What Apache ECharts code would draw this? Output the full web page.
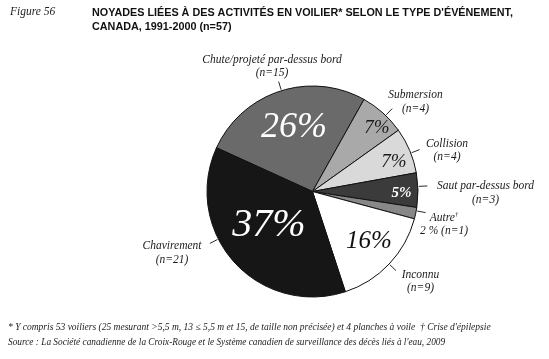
<!DOCTYPE html>
<html><head><meta charset="utf-8">
<script src="https://cdn.jsdelivr.net/npm/echarts@6/dist/echarts.min.js"></script>
<style>html,body{margin:0;padding:0;background:#fff}#c{width:549px;height:359px}</style>
</head><body><div id="c"></div>
<script>
// ---- data ----
const categories = ['Chute/projeté par-dessus bord', 'Submersion', 'Collision', 'Saut par-dessus bord', 'Autre', 'Inconnu', 'Chavirement'];
const counts = [15, 4, 4, 3, 1, 9, 21];
const noteMarks = ['', '', '', '', '†', '', ''];
const figureLabel = 'Figure 56';
const titleLines = ["NOYADES LIÉES À DES ACTIVITÉS EN VOILIER* SELON LE TYPE D'ÉVÉNEMENT,", 'CANADA, 1991-2000 (n=57)'];
const footnote1 = '* Y compris 53 voiliers (25 mesurant >5,5 m, 13 ≤ 5,5 m et 15, de taille non précisée) et 4 planches à voile';
const footnote1b = "† Crise d'épilepsie";
const footnote2 = "Source : La Société canadienne de la Croix-Rouge et le Système canadien de surveillance des décès liés à l'eau, 2009";

// ---- layout / style ----
const CX = 312.5, CY = 191.5, R = 105.5, START = 155.5;
const colors = ['#6a6a6a', '#a9a9a9', '#d9d9d9', '#3b3b3b', '#888888', '#ffffff', '#161616'];
const innerStyle = [
  {color: '#fff', size: 36, weight: 'normal', pos: [294, 128]},
  {color: '#1a1a1a', size: 19, weight: 'normal', pos: [377, 127.5]},
  {color: '#1a1a1a', size: 19, weight: 'normal', pos: [394, 161.5]},
  {color: '#fff', size: 15, weight: 'bold', pos: [401.5, 193]},
  null,
  {color: '#111', size: 25, weight: 'normal', pos: [369, 241.5]},
  {color: '#fff', size: 40, weight: 'normal', pos: [269, 225]}
];
const outerPos = [[272, 66.5], [415.5, 102], [447, 150.3], [485.5, 193], [444, 224.5], [420.5, 281.7], [172, 253]];
const anchorShift = [-1, -2, -1.5, 2, 1.3, 0, -15];

const total = counts.reduce((a, b) => a + b, 0);
const mids = [];
{ let a = START; counts.forEach(v => { const s = v / total * 360; mids.push(a - s / 2); a -= s; }); }
function pt(angDeg, r) { const t = angDeg * Math.PI / 180; return [CX + r * Math.cos(t), CY - r * Math.sin(t)]; }

const serif = 'Liberation Serif';
const chart = echarts.init(document.getElementById('c'), null, {renderer: 'canvas'});

const innerData = categories.map((n, i) => {
  const st = innerStyle[i];
  return {
    name: n, value: counts[i],
    itemStyle: {color: colors[i]},
    label: st ? {show: true, color: st.color, fontSize: st.size, fontWeight: st.weight} : {show: false}
  };
});
const outerData = categories.map((n, i) => ({name: n, value: counts[i]}));
const footStyle = sz => ({fontFamily: serif, fontStyle: 'italic', fontWeight: 'normal', fontSize: sz, color: '#222'});

chart.setOption({
  backgroundColor: '#fff',
  animation: false,
  title: [
    {text: figureLabel, left: 10, top: 6, padding: 0,
     textStyle: {fontFamily: serif, fontStyle: 'italic', fontWeight: 'normal', fontSize: 11.5, color: '#222'}},
    {text: titleLines.join('\n'), left: 92, top: 6, padding: 0,
     textStyle: {fontFamily: 'Liberation Sans', fontWeight: 'bold', fontSize: 10.8, lineHeight: 14, color: '#111'}},
    {text: footnote1, left: 8, top: 322, padding: 0, textStyle: footStyle(9.5)},
    {text: footnote1b, left: 420, top: 322, padding: 0, textStyle: footStyle(9.5)},
    {text: footnote2, left: 8, top: 338, padding: 0, textStyle: footStyle(9.3)}
  ],
  series: [
    {
      type: 'pie', center: [CX, CY], radius: [0, R], startAngle: START, clockwise: true,
      avoidLabelOverlap: false, silent: true,
      itemStyle: {borderColor: '#111', borderWidth: 1},
      label: {position: 'inside', fontFamily: serif, fontStyle: 'italic', formatter: '{d}%'},
      labelLine: {show: false},
      percentPrecision: 0,
      labelLayout: p => {
        const st = innerStyle[p.dataIndex];
        if (!st) return {};
        return {x: st.pos[0], y: st.pos[1], align: 'center', verticalAlign: 'middle'};
      },
      data: innerData
    },
    {
      type: 'pie', center: [CX, CY], radius: [0, R], startAngle: START, clockwise: true,
      avoidLabelOverlap: false, silent: true, z: 3,
      itemStyle: {color: 'rgba(0,0,0,0)', borderWidth: 0},
      percentPrecision: 0,
      label: {
        show: true, position: 'outside', fontFamily: serif, fontStyle: 'italic', fontSize: 11.5,
        color: '#1a1a1a', lineHeight: 13.5, align: 'center',
        formatter: p => {
          const mark = noteMarks[p.dataIndex];
          if (mark) return p.name + '{sup|' + mark + '}\n' + p.percent + ' % (n=' + p.value + ')';
          return p.name + '\n(n=' + p.value + ')';
        },
        rich: {sup: {fontFamily: serif, fontSize: 7, verticalAlign: 'top', color: '#1a1a1a', padding: [0, 0, 6, 0]}}
      },
      labelLine: {show: true, length: 8, length2: 0, lineStyle: {color: '#111', width: 0.9}},
      labelLayout: p => {
        const i = p.dataIndex;
        const a = mids[i] + anchorShift[i];
        return {
          x: outerPos[i][0], y: outerPos[i][1], align: 'center', verticalAlign: 'middle',
          labelLinePoints: [pt(a, R + 1), pt(a, R + 9.5), pt(a, R + 9.5)]
        };
      },
      data: outerData
    }
  ]
});
</script></body></html>
